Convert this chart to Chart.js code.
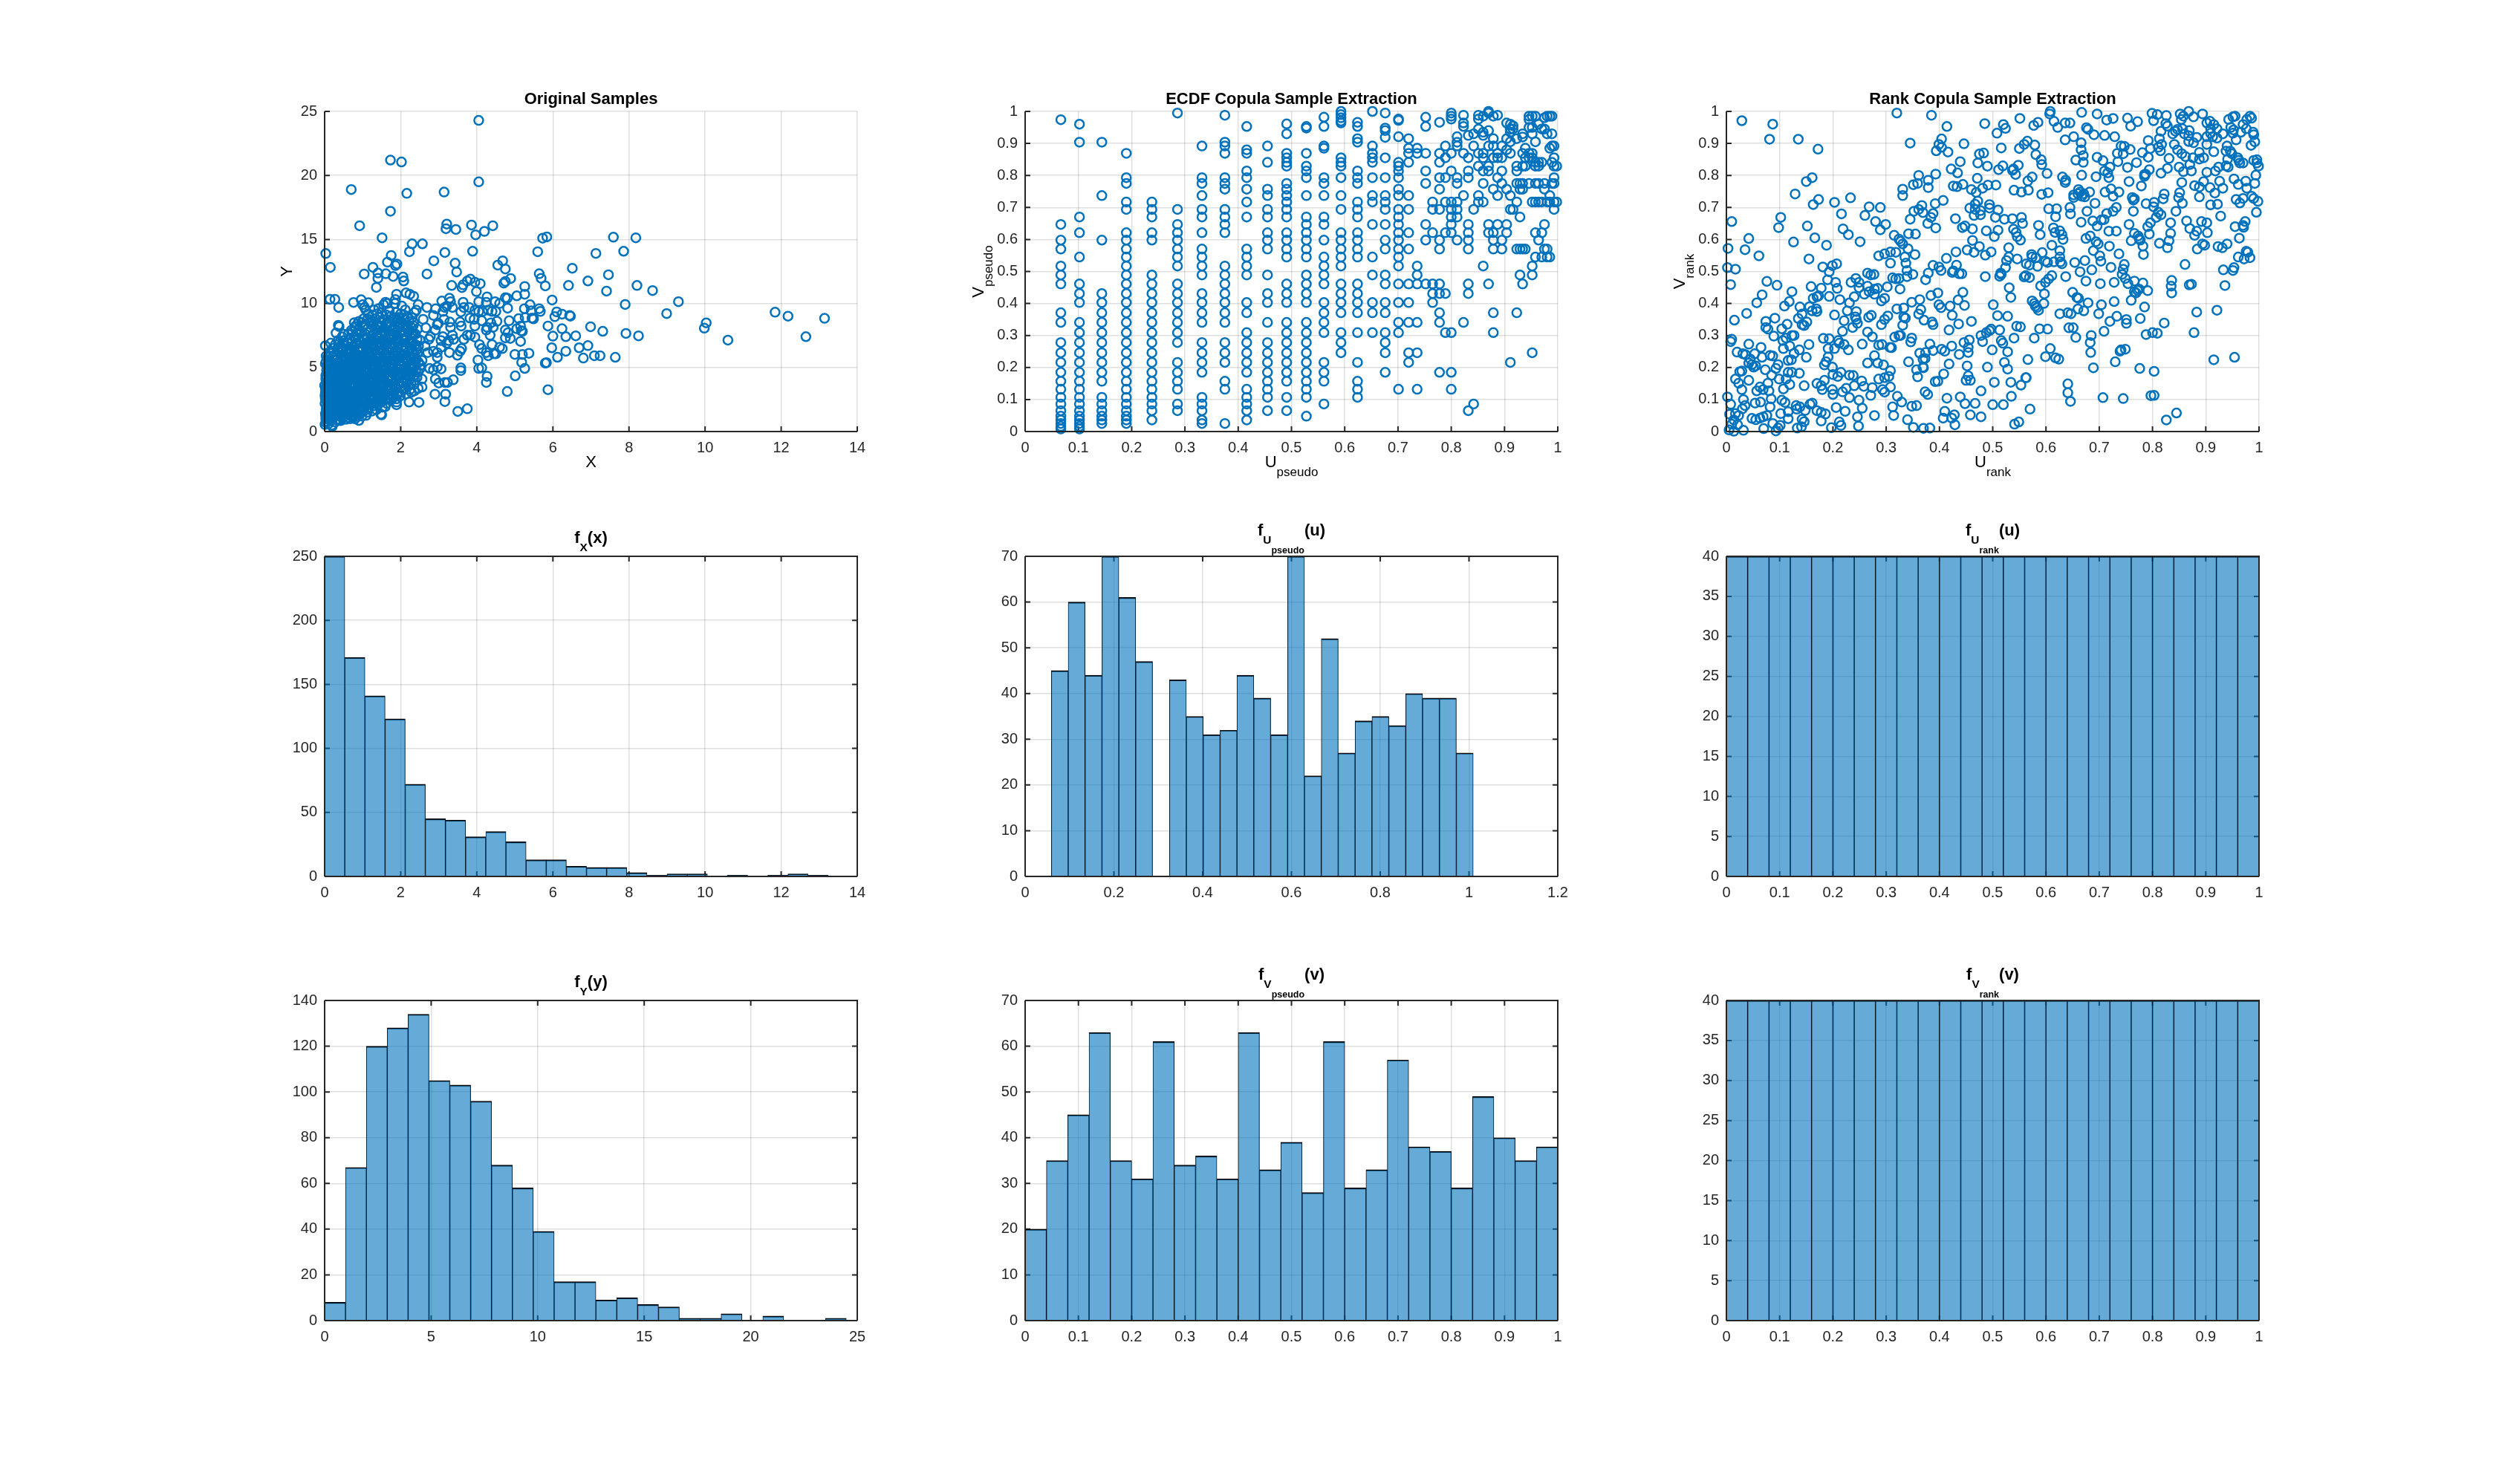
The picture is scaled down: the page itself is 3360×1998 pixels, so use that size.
<!DOCTYPE html>
<html>
<head>
<meta charset="utf-8">
<title>Copula sample extraction</title>
<script src="https://cdn.jsdelivr.net/npm/chart.js@4/dist/chart.umd.js"></script>
<style>
body { margin: 0; background: #fff; width: 3360px; height: 1998px; position: relative; overflow: hidden; }
canvas { position: absolute; }
</style>
</head>
<body>
<script>
// tick labels
const ticksX14 = [0, 2, 4, 6, 8, 10, 12, 14];
const ticksX25 = [0, 5, 10, 15, 20, 25];
const ticksUnit = [0, 0.1, 0.2, 0.3, 0.4, 0.5, 0.6, 0.7, 0.8, 0.9, 1];
const ticksU12 = [0, 0.2, 0.4, 0.6, 0.8, 1, 1.2];
const ticksY25 = [0, 5, 10, 15, 20, 25];
const ticksY250 = [0, 50, 100, 150, 200, 250];
const ticksY140 = [0, 20, 40, 60, 80, 100, 120, 140];
const ticksY70 = [0, 10, 20, 30, 40, 50, 60, 70];
const ticksY40 = [0, 5, 10, 15, 20, 25, 30, 35, 40];

// histogram counts
const countsFx = [250, 171, 141, 123, 72, 45, 44, 31, 35, 27, 13, 13, 8, 7, 7, 3, 1, 2, 2, 0, 1, 0, 1, 2, 1];
const countsFy = [8, 67, 120, 128, 134, 105, 103, 96, 68, 58, 39, 17, 17, 9, 10, 7, 6, 1, 1, 3, 0, 2, 0, 0, 1];
const countsFuPseudo = [45, 60, 44, 70, 61, 47, 0, 43, 35, 31, 32, 44, 39, 31, 70, 22, 52, 27, 34, 35, 33, 40, 39, 39, 27];
const countsFvPseudo = [20, 35, 45, 63, 35, 31, 61, 34, 36, 31, 63, 33, 39, 28, 61, 29, 33, 57, 38, 37, 29, 49, 40, 35, 38];
const countsFuRank = [40, 40, 40, 40, 40, 40, 40, 40, 40, 40, 40, 40, 40, 40, 40, 40, 40, 40, 40, 40, 40, 40, 40, 40, 40];
const countsFvRank = [40, 40, 40, 40, 40, 40, 40, 40, 40, 40, 40, 40, 40, 40, 40, 40, 40, 40, 40, 40, 40, 40, 40, 40, 40];

// [first bin edge, bin width]
const binsFx = [0, 0.5295];
const binsFy = [0, 0.9794];
const binsFuPseudo = [0.059, 0.03802];
const binsUnit = [0, 0.04];

// original samples, sparse part
const samplesOuter = [[4.05,24.3],[1.73,21.2],[2.02,21.05],[4.05,19.5],[.7,18.9],[2.16,18.6],[3.14,18.7],[1.73,17.2],[.92,16.07],[3.21,16.2],[3.19,15.84],[3.45,15.78],[3.86,16.13],[4.42,16.07],[4.2,15.63],[3.97,15.36],[1.51,15.13],[2.3,14.66],[2.57,14.66],[5.73,15.1],[5.84,15.2],[7.59,15.18],[8.18,15.13],[.03,13.9],[2.23,14.04],[3.16,13.98],[3.89,14.08],[5.6,14.04],[7.13,13.91],[7.86,14.08],[.15,12.82],[1.75,13.75],[1.65,13.23],[1.9,13.08],[1.86,12.96],[1.27,12.82],[2.87,13.33],[3.43,13.15],[3.47,12.46],[4.68,13.33],[4.55,13],[4.75,12.69],[6.51,12.75],[1.04,12.3],[1.4,12.38],[1.4,11.97],[1.61,12.32],[1.8,12.11],[2.06,12.07],[2.08,11.76],[2.69,12.3],[5.64,12.32],[5.69,11.97],[7.46,12.24],[6.92,11.76],[1.36,11.26],[3.34,11.41],[3.61,11.24],[3.64,11.45],[3.75,11.76],[3.83,11.9],[3.95,11.66],[4.09,11.55],[4.71,11.59],[4.75,11.72],[4.89,11.95],[5.26,11.33],[5.8,11.37],[6.41,11.41],[8.21,11.41],[7.41,10.97],[8.62,11.01],[3.99,10.93],[5.26,10.72],[5.05,10.6],[2.14,10.83],[2.24,10.72],[2.34,10.56],[1.89,10.72],[.14,10.33],[.27,10.33],[.37,9.69],[.76,10.08],[.96,10.29],[1.15,10.06],[1.86,10.31],[5.98,10.27],[9.3,10.14],[7.9,9.92],[8.99,9.21],[10.03,8.49],[9.98,8.07],[10.6,7.14],[11.84,9.32],[12.18,9.01],[13.14,8.84],[12.65,7.41],[7.92,7.66],[8.25,7.47],[7.31,7.83],[6.99,8.18],[7.64,5.8],[7.24,5.92],[7.09,5.92],[6.8,5.74],[6.92,6.71],[6.69,6.54],[6.6,7.47],[6.34,7.41],[6.24,8.03],[6.34,6.27],[6.12,5.8],[5.97,6.54],[6,7.45],[5.87,8.24],[6.44,9.07],[6.46,9.01],[6.24,9.17],[6.1,9.34],[6.05,8.97],[5.67,9.38],[5.64,9.59],[5.49,8.8],[5.45,8.86],[5.43,9.42],[5.4,9.9],[5.25,9.59],[5.27,8.9],[5.1,8.82],[4.85,8.65],[5.15,8.24],[5.17,7.87],[5.05,8.03],[5.2,7.83],[5.15,7.04],[5,6.02],[5.2,6.02],[5.37,6.11],[5.18,5.4],[5.26,4.93],[5.01,4.35],[5.87,3.27],[4.8,3.13],[5.8,5.34],[5.83,5.38],[4.25,3.83],[4.27,4.31],[4.05,4.93],[4.13,4.97],[4.03,5.59],[3.75,1.78],[3.5,1.57],[3.38,4.04],[3.16,3.83],[3.23,3.83],[3,3.79],[3.18,2.92],[3.16,2.34],[2.9,2.92],[3.58,4.97],[3.58,4.76],[3.06,4.89],[2.48,2.28],[2.22,2.3],[1.89,2.09],[1.89,2.3],[1.89,2.55],[1.48,1.35],[1.59,1.93],[1.09,1.26],[.9,.87],[.8,.99],[4.81,9.63],[4.8,10.41],[4.75,10.45],[4.6,10],[4.48,10.14],[4.27,10.52],[4.25,10.1],[4.05,10.14],[3.64,10.1],[3.66,9.69],[3.8,9.69],[3.28,10.41],[3.31,10.14],[3.08,10.19],[3.36,9.69],[3.16,9.69],[3.21,9.79],[2.92,9.59],[2.69,9.69],[2.46,9.9],[2.41,9.48],[2.86,9.07],[3.11,9.38],[4.05,9.38],[3.95,9.48],[4.15,9.38],[4.3,9.48],[4.4,9.38],[4.5,9.38],[3.58,9.34],[3.82,8.86],[3.56,8.55],[3.59,8.24],[3.29,8.55],[3.31,8.14],[3.14,8.76],[2.99,8.45],[2.96,8.34],[2.59,8.76],[2.66,8.1],[2.91,7.93],[3.93,8.76],[3.95,8.24],[4.13,8.65],[4.27,8.14],[4.37,8.49],[4.53,8.61],[4.43,8.14],[4.25,7.93],[4.35,7.52],[4.75,7.93],[4.82,7.72],[4.75,7.31],[4.88,7.27],[3.95,7.37],[3.83,7.52],[3.75,7.52],[3.66,7.2],[3.36,7.52],[3.39,7.2],[3.11,7.41],[3.06,7.1],[3.26,7.1],[3.21,6.89],[3.06,6.58],[2.78,7.41],[2.74,7.2],[2.64,6.69],[2.71,6.17],[2.86,6.27],[2.96,6.17],[2.96,5.8],[3.28,6.17],[3.6,6.48],[3.56,6.27],[3.49,5.96],[4.07,6.79],[4.13,6.48],[4.25,6.17],[4.3,5.92],[4.4,6.79],[4.45,6.07],[4.5,6.07],[4.6,6.58],[4.67,6.48],[2.76,4.93],[2.86,4.82],[2.96,5.03],[2.91,4.1],[2.56,4.1],[2.56,3.48],[2.36,3.17],[2.46,3.37],[2.56,5.55],[2.51,4.93]];

// original samples, dense part near the origin
const samplesCluster = [[.01,.55],[.03,1],[.02,1.4],[.05,1.9],[.01,2.2],[.04,2.6],[.02,3],[0,3.6],[.06,3.3],[.03,4.1],[.05,4.8],[.02,5.3],[.04,5.9],[.02,6.7],[.08,5.8],[.1,.6],[.11,1.2],[.08,1.6],[.09,2.4],[.12,2.8],[.07,3.1],[.1,3.7],[.12,4.3],[.09,4.5],[.07,5.1],[.11,5.6],[.12,6.2],[.06,.8],[.07,1.3],[.04,1.7],[.01,2.8],[.02,3.3],[.05,3.8],[.03,4.4],[.08,2],[.1,2.1],[.03,.7],[.2,.4],[.14,.9],[.16,1.5],[.13,1.9],[.17,2.3],[.15,2.7],[.19,3.2],[.14,3.5],[.18,3.9],[.16,4.2],[.2,4.6],[.15,4.9],[.18,5.3],[.14,5.5],[.21,5.8],[.17,6.1],[.22,6.5],[.16,6.9],[.3,7.7],[.23,1.1],[.25,1.6],[.22,2],[.27,2.5],[.24,2.9],[.28,3.3],[.23,3.7],[.29,4.1],[.26,4.5],[.3,4.9],[.24,5.2],[.31,5.6],[.27,6],[.33,6.4],[.28,6.8],[.35,7.1],[.36,8.3],[.38,8.2],[.37,.9],[.32,1.3],[.36,1.8],[.33,2.2],[.38,2.6],[.34,3],[.39,3.4],[.35,3.8],[.4,4.2],[.36,4.6],[.41,5],[.37,5.4],[.42,5.8],[.38,6.2],[.44,6.6],[.4,7],[.46,7.4],[.5,7.6],[.45,1.1],[.43,1.5],[.48,1.9],[.44,2.3],[.49,2.7],[.45,3.1],[.5,3.5],[.47,3.9],[.52,4.3],[.46,4.7],[.51,5.1],[.48,5.5],[.53,5.9],[.49,6.3],[.54,6.7],[.5,7.1],[.56,.95],[.55,1.3],[.59,1.7],[.54,2.1],[.6,2.5],[.56,2.9],[.61,3.3],[.57,3.7],[.62,4.1],[.58,4.5],[.63,4.9],[.59,5.3],[.64,5.7],[.6,6.1],[.65,6.5],[.61,6.9],[.66,7.3],[.62,7.6],[.7,7.9],[.67,1],[.66,1.4],[.7,1.8],[.65,2.2],[.71,2.6],[.67,3],[.72,3.4],[.68,3.8],[.73,4.2],[.69,4.6],[.74,5],[.7,5.4],[.75,5.8],[.71,6.2],[.76,6.6],[.72,7],[.77,7.4],[.74,7.8],[.8,8.2],[.78,8.5],[.76,1.2],[.8,1.6],[.75,2],[.82,2.4],[.77,2.8],[.83,3.2],[.79,3.6],[.84,4],[.8,4.4],[.85,4.8],[.81,5.2],[.86,5.6],[.82,6],[.87,6.4],[.83,6.8],[.88,7.2],[.84,7.6],[.89,8],[.86,8.4],[.9,8.6],[.88,1.4],[.91,1.8],[.86,2.2],[.93,2.6],[.88,3],[.94,3.4],[.9,3.8],[.95,4.2],[.91,4.6],[.96,5],[.92,5.4],[.97,5.8],[.93,6.2],[.98,6.6],[.94,7],[.99,7.4],[.95,7.8],[1,8.2],[.97,8.5],[1.02,8.8],[1.05,9.7],[1,9.9],[1.08,9.5],[.98,1.2],[1.03,1.6],[.99,2],[1.05,2.4],[1.01,2.8],[1.06,3.2],[1.02,3.6],[1.07,4],[1.03,4.4],[1.08,4.8],[1.04,5.2],[1.09,5.6],[1.05,6],[1.1,6.4],[1.06,6.8],[1.11,7.2],[1.07,7.6],[1.12,8],[1.08,8.4],[1.13,8.8],[1.15,9.2],[1.12,1.5],[1.16,1.9],[1.13,2.3],[1.18,2.7],[1.14,3.1],[1.19,3.5],[1.15,3.9],[1.2,4.3],[1.16,4.7],[1.21,5.1],[1.17,5.5],[1.22,5.9],[1.18,6.3],[1.23,6.7],[1.19,7.1],[1.24,7.5],[1.2,7.9],[1.25,8.3],[1.21,8.7],[1.26,9.1],[1.3,9.5],[1.25,1.6],[1.28,2],[1.24,2.4],[1.3,2.8],[1.26,3.2],[1.31,3.6],[1.27,4],[1.32,4.4],[1.28,4.8],[1.33,5.2],[1.29,5.6],[1.34,6],[1.3,6.4],[1.35,6.8],[1.31,7.2],[1.36,7.6],[1.32,8],[1.37,8.4],[1.33,8.8],[1.38,9.2],[1.42,9.6],[1.36,1.7],[1.4,2.1],[1.37,2.5],[1.42,2.9],[1.38,3.3],[1.43,3.7],[1.39,4.1],[1.44,4.5],[1.4,4.9],[1.45,5.3],[1.41,5.7],[1.46,6.1],[1.42,6.5],[1.47,6.9],[1.43,7.3],[1.48,7.7],[1.44,8.1],[1.49,8.5],[1.45,8.9],[1.5,9.3],[1.55,9.9],[1.5,1.3],[1.52,1.9],[1.49,2.3],[1.54,2.7],[1.5,3.1],[1.55,3.5],[1.51,3.9],[1.56,4.3],[1.52,4.7],[1.57,5.1],[1.53,5.5],[1.58,5.9],[1.54,6.3],[1.59,6.7],[1.55,7.1],[1.6,7.5],[1.56,7.9],[1.61,8.3],[1.57,8.7],[1.62,9.1],[1.6,10.1],[1.65,10],[1.63,2.2],[1.66,2.6],[1.62,3],[1.67,3.4],[1.63,3.8],[1.68,4.2],[1.64,4.6],[1.69,5],[1.65,5.4],[1.7,5.8],[1.66,6.2],[1.71,6.6],[1.67,7],[1.72,7.4],[1.68,7.8],[1.73,8.2],[1.69,8.6],[1.74,9],[1.7,9.4],[1.76,2.5],[1.78,2.9],[1.75,3.3],[1.8,3.7],[1.76,4.1],[1.81,4.5],[1.77,4.9],[1.82,5.3],[1.78,5.7],[1.83,6.1],[1.79,6.5],[1.84,6.9],[1.8,7.3],[1.85,7.7],[1.81,8.1],[1.86,8.5],[1.82,8.9],[1.88,9.3],[1.85,10],[1.9,2.9],[1.87,3.3],[1.92,3.7],[1.88,4.1],[1.93,4.5],[1.89,4.9],[1.94,5.3],[1.9,5.7],[1.95,6.1],[1.91,6.5],[1.96,6.9],[1.92,7.3],[1.97,7.7],[1.93,8.1],[1.98,8.5],[1.94,8.9],[2,9.2],[2.03,9.8],[2.02,3.1],[2,3.5],[2.05,3.9],[2.01,4.3],[2.06,4.7],[2.02,5.1],[2.07,5.5],[2.03,5.9],[2.08,6.3],[2.04,6.7],[2.09,7.1],[2.05,7.5],[2.1,7.9],[2.06,8.3],[2.11,8.7],[2.08,9.1],[2.12,9.5],[2.13,3.4],[2.15,3.8],[2.12,4.2],[2.17,4.6],[2.13,5],[2.18,5.4],[2.14,5.8],[2.19,6.2],[2.15,6.6],[2.2,7],[2.16,7.4],[2.21,7.8],[2.17,8.2],[2.22,8.6],[2.18,9],[2.25,3.3],[2.27,3.7],[2.24,4.1],[2.29,4.5],[2.25,4.9],[2.3,5.3],[2.26,5.7],[2.31,6.1],[2.27,6.5],[2.32,6.9],[2.28,7.3],[2.33,7.7],[2.29,8.1],[2.34,8.5],[2.3,8.9],[2.36,9.3],[2.38,4],[2.35,4.4],[2.4,4.8],[2.36,5.2],[2.41,5.6],[2.37,6],[2.42,6.4],[2.38,6.8],[2.43,7.2],[2.39,7.6],[2.44,8],[2.47,5.4],[.19,.5],[.28,.75],[.42,.85],[.51,1.35],[.6,1.1],[.72,1.25],[.03,1.2],[.06,2.3],[.09,2.9],[.04,3.5],[.13,3.1],[.08,3.9],[.11,4.1],[.06,4.3],[.13,4.7],[.09,5.3],[.14,2.4],[.2,2.6],[.18,1.9],[.21,3.4],[.24,4],[.19,4.4],[.27,3.1],[.22,3],[.31,2.4],[.29,1.8],[.33,3.6],[.3,4.3],[.35,4.9],[.27,5.3],[.4,2.9],[.42,3.7],[.37,4.2],[.44,4.9],[.41,2.2],[.47,3.3],[.52,2.4],[.55,3.5],[.5,4.2],[.57,4.9],[.46,5.7],[.63,2.9],[.69,3.5],[.6,3.9],[.66,4.4],[.61,5.1],[.74,3.1],[.79,4.1],[.75,4.7],[.83,5.4],[.71,5.7],[.92,3.2],[.87,4.3],[.96,4.7],[.89,5.9],[1.02,3.9],[1.11,4.7],[1.06,5.5],[1.14,6.1],[1.22,3.8],[1.26,5],[1.35,4.2],[1.41,5],[1.47,6.3],[1.57,3.7],[1.63,5],[1.72,5.9],[1.84,4.7],[1.96,5.8],[2.09,4.9],[2.21,5.9],[2.33,4.9]];

// more of the dense part, where single rings cannot be told apart
const samplesClusterFill = [[.11,1.73],[.17,1.21],[.07,2.77],[.21,2.17],[.13,3.34],[.26,3.62],[.16,2.91],[.24,2.33],[.34,1.57],[.29,2.87],[.39,1.23],[.31,3.53],[.43,2.71],[.37,2.47],[.46,1.67],[.54,1.87],[.41,3.22],[.58,2.37],[.48,2.92],[.35,4.33],[.44,3.53],[.53,3.13],[.62,1.53],[.68,2.07],[.57,3.27],[.65,3.63],[.73,2.33],[.51,3.81],[.79,1.47],[.84,2.13],[.71,2.93],[.63,4.27],[.77,3.37],[.87,2.77],[.54,4.63],[.67,4.83],[.81,3.07],[.93,2.03],[.74,4.43],[.89,3.53],[.97,2.37],[.82,4.17],[.59,5.63],[.72,5.33],[.95,3.87],[1.03,2.17],[.84,5.07],[1.09,2.93],[.91,4.27],[.78,6.13],[1.01,4.77],[1.13,3.47],[.66,6.27],[.93,5.73],[1.16,2.57],[1.07,4.33],[.86,6.87],[1.21,3.13],[1.12,5.27],[1.26,2.17],[.98,6.27],[1.23,4.53],[1.34,3.03],[1.18,5.77],[1.37,2.27],[1.29,4.17],[1.43,3.23],[1.11,6.73],[1.33,5.57],[1.47,2.63],[1.24,6.13],[1.39,4.67],[1.52,3.37],[1.34,6.43],[1.49,4.13],[1.59,2.47],[1.43,5.43],[1.61,3.27],[1.27,7.07],[1.54,5.07],[1.68,2.93],[1.38,7.33],[1.59,4.53],[1.73,3.47],[1.48,6.57],[1.66,5.67],[1.79,2.83],[1.57,6.93],[1.73,4.37],[1.86,3.57],[1.63,6.37],[1.78,5.17],[1.93,3.07],[1.69,7.27],[1.84,5.93],[1.99,2.77],[1.74,6.83],[1.91,4.33],[2.07,3.27],[1.82,7.53],[1.98,5.07],[2.14,2.93],[1.89,6.27],[2.04,4.47],[2.21,3.57],[1.95,7.13],[2.11,5.67],[2.28,3.07],[2.02,7.83],[2.18,4.37],[2.35,3.67],[2.07,6.57],[2.24,5.13],[2.43,4.23],[2.13,7.27],[2.31,6.37],[2.46,4.63],[2.19,8.07],[2.37,5.73],[2.52,5.17],[2.26,7.03],[2.44,6.13],[2.29,7.63],[2.47,6.67],[2.33,8.27],[2.51,7.13],[1.26,8.57],[1.47,8.23],[1.68,8.43],[1.89,8.83],[2.12,8.27],[1.17,7.73],[1.38,7.93],[1.59,7.77],[1.76,7.63],[1.97,8.27],[.93,7.67],[1.04,7.27],[1.14,6.87],[.71,6.63],[.82,7.33],[.58,6.37],[.47,6.87],[.36,6.57],[.23,6.27],[.12,5.13],[.19,5.07],[.26,4.73],[.33,5.23],[.04,5.47],[.07,4.57],[.14,4.17],[.21,3.97],[.28,4.87],[.39,4.73],[.46,4.33],[.53,5.47],[.6,4.67],[.67,5.13],[.74,5.53],[.81,4.83],[.88,4.93],[.95,5.27],[1.02,5.57],[1.09,5.03],[1.16,5.33],[1.23,5.63],[1.3,5.07],[1.37,5.43],[1.44,5.83],[1.51,4.43],[1.58,4.87],[1.65,4.27],[1.72,5.33],[1.79,4.63],[1.86,5.53],[1.93,4.87],[2,5.27],[.02,2.57],[.05,3.13],[.08,3.43],[.11,2.43],[.14,1.37],[.17,.83],[.2,1.73],[.23,2.57],[.26,1.93],[.29,1.27],[.32,.95],[.35,2.77],[.38,2.07],[.41,1.73],[.44,1.27],[.47,2.53],[.5,1.17],[.53,2.77],[.56,2.17],[.59,3.07],[.62,2.77],[.65,1.83],[.68,1.23],[.71,1.67],[.74,3.73],[.77,2.13],[.8,2.63],[.83,1.17],[.86,3.33],[.89,2.37],[.92,1.33],[.95,3.03],[.98,1.73],[1.01,3.27],[1.04,1.93],[1.07,2.77],[1.1,3.77],[1.13,1.77],[1.16,4.07],[1.19,2.23],[1.22,2.87],[1.25,3.47],[1.28,2.63],[1.31,4.53],[1.34,3.37],[1.37,3.87],[1.4,2.57],[1.43,4.27],[1.46,3.53],[1.49,2.93]];

// ECDF copula: U levels and the V values found at each level
const pseudoU = [.067,.102,.144,.19,.238,.286,.332,.375,.416,.455,.491,.528,.561,.593,.624,.652,.676,.701,.72,.736,.752,.765,.778,.789,.8,.811,.823,.832,.842,.851,.86,.87,.879,.887,.895,.904,.911,.916,.923,.929,.934,.939,.946,.952,.958,.964,.97,.975,.98,.985,.989,.993,.998];
const pseudoV = [
  [.974,.647,.598,.57,.517,.489,.461,.371,.341,.278,.246,.216,.185,.157,.132,.107,.086,.065,.048,.036,.025,.016,.008],
  [.96,.904,.67,.621,.545,.461,.431,.403,.341,.309,.278,.246,.216,.185,.157,.132,.107,.086,.065,.048,.036,.025,.016,.008],
  [.904,.737,.598,.431,.403,.371,.341,.309,.278,.246,.216,.185,.157,.107,.086,.065,.048,.036,.025],
  [.869,.793,.775,.717,.694,.621,.598,.57,.545,.517,.489,.461,.431,.403,.371,.341,.309,.278,.246,.216,.185,.157,.132,.107,.086,.065,.048,.036,.025],
  [.717,.694,.67,.621,.598,.489,.461,.431,.403,.371,.341,.309,.278,.246,.216,.185,.157,.132,.107,.086,.065,.036],
  [.995,.694,.647,.621,.598,.57,.545,.517,.461,.431,.403,.371,.341,.309,.278,.216,.185,.157,.132,.086,.065],
  [.892,.793,.775,.737,.694,.67,.621,.57,.545,.517,.489,.431,.403,.371,.341,.278,.246,.216,.185,.107,.086,.065,.036,.025],
  [.988,.904,.892,.869,.793,.775,.757,.694,.67,.647,.621,.517,.489,.461,.431,.403,.371,.341,.278,.246,.216,.157,.132,.025],
  [.953,.88,.869,.814,.793,.757,.717,.67,.57,.545,.517,.489,.403,.371,.309,.278,.246,.216,.185,.132,.107,.086,.065,.036],
  [.892,.841,.757,.737,.694,.67,.621,.598,.57,.489,.431,.403,.341,.278,.246,.216,.185,.157,.132,.107,.065],
  [.961,.93,.869,.855,.841,.829,.775,.757,.737,.717,.694,.67,.621,.598,.57,.545,.461,.431,.403,.341,.309,.278,.246,.216,.185,.157,.107,.065],
  [.953,.948,.869,.829,.814,.793,.737,.67,.647,.621,.598,.57,.545,.489,.461,.431,.403,.341,.309,.278,.246,.216,.185,.157,.132,.107,.048],
  [.982,.953,.892,.885,.793,.775,.737,.67,.647,.598,.545,.517,.489,.461,.403,.371,.341,.309,.216,.185,.157,.086],
  [1,.99,.98,.97,.964,.855,.841,.829,.793,.737,.694,.621,.598,.57,.545,.517,.461,.431,.403,.371,.309,.278,.246],
  [.966,.953,.915,.904,.814,.793,.775,.717,.694,.67,.621,.598,.57,.545,.461,.431,.403,.371,.309,.216,.157,.132,.107],
  [1,.892,.869,.855,.841,.793,.737,.717,.647,.545,.489,.403,.371,.309],
  [.995,.948,.94,.919,.855,.793,.737,.717,.694,.647,.598,.57,.489,.461,.403,.371,.309,.278,.246,.185],
  [.976,.972,.921,.841,.829,.814,.793,.757,.737,.694,.67,.647,.621,.598,.57,.545,.517,.461,.403,.341,.309,.132],
  [.915,.885,.869,.841,.737,.694,.621,.57,.461,.403,.341,.246,.216],
  [.885,.869,.517,.489,.461,.341,.246,.132],
  [.982,.953,.869,.814,.775,.647,.598,.461],
  [.717,.694,.621,.461,.431,.403],
  [.966,.869,.841,.793,.757,.694,.598,.57,.461,.431,.371,.341,.185],
  [.892,.855,.793,.717,.621,.431,.309],
  [.995,.985,.976,.869,.814,.717,.694,.67,.647,.621,.309,.185,.132],
  [.921,.904,.892,.793,.775,.717,.694,.67,.598],
  [.988,.964,.953,.869,.737,.341],
  [.925,.855,.814,.793,.647,.621,.598,.57,.461,.431,.065],
  [.93,.892,.694,.086],
  [.988,.976,.945,.869,.829,.737,.717],
  [.985,.925,.935,.869,.855,.814,.775,.717,.517],
  [1,.995,.94,.892,.829,.814,.647,.621,.461],
  [.985,.915,.892,.855,.757,.621,.598,.57,.371,.309],
  [.988,.869,.855,.793,.737,.647],
  [.892,.855,.814,.775,.598,.57],
  [.964,.915,.88,.757,.647,.621],
  [.96,.945,.935,.905,.869,.737,.694,.216],
  [.955,.945,.694],
  [.915,.829,.814,.775,.717,.57,.371],
  [.775,.757,.67,.57,.489],
  [.93,.92,.869,.829,.775,.757,.57,.461],
  [.885,.855,.829,.57],
  [.985,.975,.95,.869,.855,.775],
  [.985,.95,.93,.869,.855,.717,.517,.489,.246],
  [.985,.905,.841,.829,.775,.717,.621,.545],
  [.96,.841,.829,.775,.717,.598],
  [.945,.841,.717,.621,.545],
  [.98,.945,.775,.757,.647,.57],
  [.985,.93,.717,.57,.545],
  [.985,.885,.737,.717,.545],
  [.985,.93,.892,.841,.775],
  [.892,.855,.829,.793,.775,.717,.694],
  [.829,.717]
];

// rank copula samples
const rankPoints = [[.029,.971],[.087,.96],[.081,.913],[.135,.913],[.32,.995],[.385,.988],[.345,.901],[.414,.953],[.404,.914],[.399,.897],[.446,.899],[.485,.962],[.508,.932],[.52,.959],[.524,.947],[.551,.978],[.577,.956],[.585,.966],[.565,.907],[.559,.897],[.579,.895],[.608,1],[.607,.992],[.615,.969],[.622,.95],[.636,.964],[.645,.964],[.636,.911],[.652,.921],[.667,.997],[.696,.992],[.676,.949],[.679,.944],[.69,.927],[.666,.902],[.71,.925],[.714,.973],[.726,.978],[.729,.921],[.753,.979],[.759,.954],[.772,.968],[.799,.994],[.802,.971],[.809,.99],[.826,.987],[.825,.962],[.828,.954],[.792,.909],[.816,.938],[.813,.915],[.838,.93],[.843,.938],[.847,.944],[.852,.992],[.858,.985],[.854,.975],[.868,1],[.877,.983],[.894,.992],[.856,.946],[.869,.94],[.868,.924],[.86,.93],[.883,.919],[.868,.906],[.877,.902],[.902,.964],[.908,.969],[.915,.959],[.909,.946],[.921,.946],[.909,.932],[.902,.921],[.913,.921],[.921,.917],[.932,.93],[.902,.897],[.943,.975],[.951,.983],[.955,.985],[.947,.95],[.952,.942],[.951,.932],[.957,.911],[.97,.959],[.976,.946],[.983,.985],[.986,.979],[.977,.975],[.966,.935],[.989,.935],[.99,.927],[.985,.894],[.992,.905],
[.172,.882],[.394,.877],[.416,.873],[.404,.888],[.475,.867],[.483,.87],[.439,.843],[.472,.839],[.49,.829],[.422,.82],[.434,.808],[.393,.804],[.361,.8],[.516,.886],[.55,.884],[.581,.865],[.591,.849],[.592,.834],[.519,.83],[.511,.818],[.537,.816],[.548,.832],[.539,.82],[.543,.803],[.602,.806],[.656,.848],[.67,.862],[.666,.88],[.67,.841],[.696,.857],[.707,.846],[.71,.814],[.716,.808],[.72,.826],[.667,.801],[.735,.843],[.734,.869],[.741,.892],[.747,.891],[.745,.868],[.758,.881],[.781,.871],[.792,.857],[.753,.825],[.77,.84],[.796,.884],[.794,.818],[.785,.803],[.811,.888],[.817,.897],[.815,.877],[.831,.853],[.816,.807],[.828,.822],[.841,.897],[.847,.88],[.85,.826],[.855,.868],[.862,.859],[.876,.855],[.87,.834],[.858,.812],[.873,.814],[.888,.872],[.896,.855],[.888,.851],[.902,.81],[.915,.874],[.924,.826],[.918,.814],[.94,.892],[.946,.876],[.938,.876],[.941,.851],[.942,.826],[.938,.83],[.949,.868],[.96,.855],[.962,.847],[.964,.839],[.97,.839],[.99,.847],[.996,.849],[.996,.839],[.999,.829],[.994,.801],
[.161,.793],[.15,.781],[.129,.742],[.173,.725],[.163,.709],[.203,.716],[.233,.73],[.268,.702],[.289,.7],[.331,.757],[.331,.737],[.351,.771],[.359,.775],[.379,.785],[.379,.762],[.367,.706],[.392,.712],[.407,.722],[.426,.767],[.433,.765],[.444,.772],[.46,.756],[.469,.747],[.471,.791],[.481,.76],[.491,.77],[.506,.77],[.472,.72],[.467,.71],[.494,.709],[.54,.754],[.554,.748],[.567,.754],[.566,.783],[.574,.795],[.592,.741],[.604,.746],[.631,.795],[.637,.785],[.636,.778],[.652,.731],[.66,.743],[.664,.748],[.671,.743],[.661,.756],[.652,.739],[.673,.733],[.682,.748],[.667,.735],[.694,.796],[.718,.793],[.711,.748],[.722,.758],[.726,.735],[.737,.748],[.692,.713],[.756,.781],[.779,.767],[.787,.804],[.785,.797],[.762,.731],[.764,.723],[.766,.727],[.788,.712],[.803,.716],[.822,.742],[.82,.727],[.802,.702],[.855,.778],[.849,.731],[.851,.746],[.856,.713],[.879,.768],[.888,.764],[.888,.733],[.896,.781],[.908,.762],[.917,.745],[.926,.782],[.932,.76],[.909,.708],[.922,.71],[.953,.789],[.961,.772],[.957,.725],[.964,.714],[.97,.728],[.975,.782],[.977,.76],[.986,.735],[.99,.728],[.992,.775],[.998,.719],
[.01,.656],[.102,.669],[.098,.637],[.152,.642],[.166,.605],[.216,.68],[.219,.633],[.229,.615],[.26,.675],[.28,.656],[.289,.63],[.299,.647],[.315,.613],[.345,.663],[.342,.618],[.355,.617],[.352,.688],[.361,.694],[.369,.684],[.378,.65],[.384,.669],[.388,.681],[.393,.636],[.43,.665],[.443,.637],[.448,.642],[.462,.633],[.457,.698],[.467,.694],[.477,.677],[.465,.675],[.477,.69],[.494,.698],[.505,.669],[.51,.692],[.51,.629],[.488,.627],[.503,.609],[.522,.663],[.537,.665],[.539,.632],[.544,.622],[.546,.609],[.554,.669],[.556,.65],[.552,.598],[.586,.644],[.589,.615],[.605,.696],[.62,.696],[.618,.671],[.614,.636],[.617,.622],[.626,.627],[.63,.615],[.632,.6],[.646,.68],[.645,.7],[.666,.654],[.677,.688],[.675,.603],[.683,.611],[.688,.658],[.696,.642],[.704,.661],[.709,.662],[.714,.681],[.726,.688],[.732,.7],[.718,.626],[.732,.626],[.756,.647],[.76,.596],[.766,.619],[.773,.611],[.775,.603],[.764,.688],[.791,.64],[.794,.617],[.796,.652],[.811,.685],[.807,.669],[.816,.677],[.834,.619],[.834,.652],[.844,.688],[.864,.658],[.87,.634],[.883,.626],[.879,.613],[.892,.656],[.902,.652],[.903,.621],[.928,.673],[.955,.64],[.97,.644],[.974,.656],[.963,.604],[.971,.638],[.995,.685],
[.003,.572],[.035,.568],[.042,.603],[.061,.549],[.126,.592],[.155,.539],[.188,.582],[.002,.512],[.017,.507],[.181,.514],[.193,.499],[.199,.518],[.207,.524],[.251,.593],[.286,.549],[.297,.555],[.308,.561],[.318,.56],[.308,.526],[.335,.545],[.337,.526],[.339,.503],[.354,.553],[.341,.571],[.327,.594],[.331,.586],[.324,.601],[.388,.519],[.399,.514],[.403,.503],[.413,.541],[.431,.561],[.432,.52],[.426,.502],[.452,.567],[.462,.597],[.465,.56],[.475,.578],[.486,.551],[.497,.561],[.53,.574],[.53,.545],[.526,.534],[.524,.512],[.515,.495],[.546,.539],[.573,.553],[.574,.545],[.563,.524],[.569,.52],[.584,.516],[.593,.559],[.599,.532],[.603,.528],[.581,.543],[.611,.582],[.615,.53],[.626,.545],[.626,.565],[.627,.53],[.63,.524],[.654,.528],[.664,.499],[.673,.534],[.686,.505],[.689,.565],[.694,.593],[.698,.586],[.701,.549],[.703,.532],[.719,.579],[.722,.513],[.737,.555],[.747,.522],[.745,.507],[.783,.553],[.782,.579],[.777,.598],[.813,.588],[.828,.574],[.831,.596],[.861,.522],[.884,.57],[.894,.586],[.898,.582],[.923,.578],[.931,.574],[.94,.586],[.933,.505],[.961,.545],[.951,.503],[.953,.512],[.972,.539],[.976,.563],[.979,.56],[.983,.543],
[.008,.459],[.076,.469],[.095,.457],[.067,.427],[.057,.402],[.123,.437],[.118,.406],[.109,.392],[.159,.453],[.163,.416],[.17,.421],[.178,.448],[.173,.424],[.19,.474],[.193,.422],[.205,.466],[.208,.447],[.213,.412],[.231,.402],[.234,.466],[.24,.421],[.243,.478],[.249,.466],[.249,.449],[.259,.429],[.265,.495],[.271,.489],[.277,.491],[.265,.454],[.268,.437],[.278,.445],[.284,.447],[.278,.429],[.291,.408],[.297,.416],[.302,.452],[.312,.48],[.324,.478],[.318,.477],[.326,.445],[.35,.491],[.339,.484],[.348,.404],[.363,.412],[.374,.474],[.379,.495],[.384,.425],[.397,.433],[.424,.497],[.435,.411],[.444,.435],[.437,.493],[.442,.493],[.486,.484],[.513,.485],[.516,.491],[.531,.449],[.534,.419],[.559,.483],[.562,.487],[.569,.481],[.59,.455],[.597,.43],[.599,.466],[.605,.477],[.611,.487],[.637,.484],[.65,.435],[.658,.419],[.661,.416],[.675,.47],[.679,.402],[.702,.462],[.728,.466],[.728,.406],[.743,.491],[.749,.478],[.754,.462],[.766,.47],[.76,.41],[.766,.437],[.769,.433],[.772,.441],[.775,.445],[.782,.464],[.791,.44],[.836,.472],[.835,.454],[.836,.433],[.869,.458],[.873,.46],[.936,.456],
[.038,.369],[.015,.348],[.091,.354],[.074,.344],[.074,.325],[.078,.32],[.114,.335],[.104,.321],[.123,.3],[.127,.3],[.138,.389],[.142,.367],[.135,.353],[.142,.334],[.146,.331],[.151,.342],[.156,.39],[.161,.377],[.169,.383],[.17,.375],[.203,.364],[.221,.346],[.227,.377],[.218,.313],[.237,.325],[.242,.358],[.244,.375],[.244,.35],[.246,.338],[.265,.311],[.267,.357],[.272,.363],[.274,.296],[.291,.334],[.297,.35],[.303,.361],[.32,.383],[.333,.386],[.333,.358],[.336,.354],[.331,.332],[.327,.3],[.365,.381],[.361,.367],[.371,.348],[.388,.334],[.386,.342],[.399,.396],[.403,.387],[.42,.392],[.424,.363],[.418,.317],[.436,.336],[.447,.394],[.46,.344],[.478,.3],[.488,.309],[.494,.315],[.497,.32],[.501,.396],[.509,.362],[.513,.317],[.528,.36],[.545,.329],[.552,.327],[.574,.408],[.578,.4],[.58,.392],[.583,.387],[.586,.379],[.596,.4],[.588,.321],[.603,.32],[.626,.368],[.641,.371],[.647,.368],[.643,.324],[.651,.324],[.66,.383],[.671,.377],[.699,.368],[.704,.396],[.685,.3],[.709,.313],[.72,.344],[.733,.36],[.751,.35],[.751,.338],[.777,.353],[.785,.389],[.822,.339],[.883,.373],[.878,.309],[.921,.379],[.8,.309],[.809,.307],
[.01,.288],[.008,.281],[.042,.273],[.065,.263],[.02,.248],[.031,.243],[.036,.24],[.053,.243],[.082,.238],[.087,.236],[.067,.232],[.045,.226],[.042,.214],[.048,.209],[.055,.205],[.051,.201],[.089,.298],[.106,.284],[.112,.292],[.107,.259],[.119,.267],[.137,.255],[.127,.244],[.155,.272],[.15,.232],[.097,.209],[.116,.222],[.122,.224],[.182,.291],[.193,.29],[.21,.284],[.212,.276],[.203,.259],[.191,.259],[.221,.272],[.229,.255],[.191,.233],[.187,.218],[.184,.208],[.255,.273],[.278,.237],[.265,.214],[.284,.214],[.295,.208],[.286,.27],[.292,.272],[.307,.263],[.31,.262],[.316,.295],[.324,.3],[.348,.292],[.346,.28],[.342,.218],[.363,.245],[.374,.247],[.369,.226],[.373,.228],[.382,.273],[.388,.253],[.404,.257],[.41,.251],[.423,.267],[.418,.211],[.369,.201],[.437,.241],[.446,.278],[.456,.286],[.454,.263],[.454,.247],[.452,.205],[.499,.255],[.481,.281],[.49,.201],[.516,.284],[.519,.276],[.528,.249],[.522,.216],[.54,.292],[.566,.225],[.578,.292],[.608,.259],[.599,.234],[.618,.23],[.624,.226],[.656,.294],[.683,.278],[.684,.247],[.73,.218],[.739,.251],[.741,.255],[.749,.257],[.788,.303],[.915,.224],[.954,.232],
[.025,.187],[.029,.189],[.017,.164],[.023,.151],[.029,.131],[.042,.16],[.073,.193],[.093,.197],[.085,.176],[.099,.164],[.116,.185],[.123,.185],[.112,.164],[.119,.147],[.107,.133],[.078,.151],[.057,.127],[.063,.139],[.069,.131],[.08,.127],[.137,.182],[.146,.143],[.17,.15],[.178,.143],[.184,.16],[.18,.131],[.199,.201],[.2,.178],[.209,.172],[.215,.185],[.199,.131],[.2,.116],[.218,.124],[.225,.135],[.231,.176],[.238,.175],[.24,.143],[.231,.106],[.254,.158],[.258,.141],[.274,.137],[.271,.113],[.286,.164],[.297,.168],[.305,.172],[.308,.19],[.293,.131],[.297,.123],[.308,.139],[.321,.11],[.357,.193],[.359,.171],[.392,.156],[.397,.157],[.37,.199],[.373,.124],[.378,.116],[.408,.18],[.414,.104],[.439,.108],[.45,.16],[.454,.174],[.458,.16],[.478,.127],[.503,.154],[.528,.195],[.534,.154],[.535,.11],[.553,.145],[.562,.168],[.563,.168],[.641,.149],[.641,.121],[.689,.199],[.707,.106],[.745,.103],[.776,.197],[.803,.188],[.797,.112],[.803,.113],
[.002,.108],[.008,.085],[.032,.1],[.035,.081],[.03,.071],[.006,.054],[.023,.05],[.014,.036],[.01,.023],[.021,.021],[.005,.005],[.014,.001],[.032,.004],[.017,.056],[.054,.089],[.064,.092],[.084,.102],[.082,.077],[.076,.05],[.048,.041],[.055,.037],[.063,.042],[.069,.046],[.07,.009],[.087,.025],[.093,.002],[.097,.011],[.101,.019],[.102,.056],[.104,.098],[.11,.091],[.116,.062],[.116,.04],[.131,.081],[.138,.077],[.132,.07],[.148,.066],[.157,.085],[.161,.089],[.142,.038],[.146,.031],[.133,.011],[.141,.015],[.17,.065],[.178,.06],[.186,.055],[.178,.033],[.197,.012],[.206,.075],[.212,.03],[.215,.019],[.223,.063],[.249,.098],[.255,.073],[.246,.046],[.248,.017],[.278,.05],[.312,.077],[.314,.05],[.329,.092],[.348,.079],[.357,.081],[.34,.037],[.351,.013],[.37,.01],[.382,.011],[.41,.063],[.407,.042],[.428,.052],[.423,.042],[.429,.021],[.448,.087],[.467,.088],[.458,.052],[.478,.046],[.5,.084],[.52,.084],[.541,.023],[.549,.03],[.57,.07],[.646,.094],[.826,.036],[.845,.058]];

// titles and axis labels as [text, subscript depth]
const titleFx = [['f', 0], ['X', 1], ['(x)', 0]];
const titleFy = [['f', 0], ['Y', 1], ['(y)', 0]];
const titleFuPseudo = [['f', 0], ['U', 1], ['pseudo', 2], ['(u)', 0]];
const titleFvPseudo = [['f', 0], ['V', 1], ['pseudo', 2], ['(v)', 0]];
const titleFuRank = [['f', 0], ['U', 1], ['rank', 2], ['(u)', 0]];
const titleFvRank = [['f', 0], ['V', 1], ['rank', 2], ['(v)', 0]];

// subplot positions in the page
const colLeft = [437, 1380, 2324];
const rowTop = [150, 749, 1347];
const axisWidth = 717;
const axisHeight = 431;
const fontName = '"Liberation Sans", Arial, sans-serif';
const axisColor = '#262626';
const markerColor = '#0072BD';

const titleSizes = [22, 15.4, 12.5];
const titleDrops = [0, 11, 24];
const labelSizes = [22, 17];
const labelDrops = [0, 12];

// draw a run of text pieces, each one lowered by its subscript depth
function drawRun(ctx, run, sizes, drops, weight, cx, y, angle) {
  ctx.save();
  ctx.translate(cx, y);
  ctx.rotate(angle);
  ctx.fillStyle = '#000';
  ctx.textBaseline = 'alphabetic';
  ctx.textAlign = 'left';
  let total = 0;
  const widths = run.map(([text, depth]) => {
    ctx.font = `${weight} ${sizes[depth]}px ${fontName}`;
    const w = ctx.measureText(text).width;
    total += w;
    return w;
  });
  let x = -total / 2;
  run.forEach(([text, depth], i) => {
    ctx.font = `${weight} ${sizes[depth]}px ${fontName}`;
    ctx.fillText(text, x, drops[depth]);
    x += widths[i];
  });
  ctx.restore();
}

const subplotDecor = {
  id: 'subplotDecor',
  beforeDatasetsDraw(chart, args, opts) {
    // MATLAB style inward ticks
    const { ctx, chartArea: a, scales } = chart;
    const len = 7;
    ctx.save();
    ctx.strokeStyle = axisColor;
    ctx.lineWidth = 2;
    ctx.beginPath();
    scales.x.ticks.forEach((t) => {
      const px = scales.x.getPixelForValue(t.value);
      ctx.moveTo(px, a.bottom);
      ctx.lineTo(px, a.bottom - len);
      if (opts.box) {
        ctx.moveTo(px, a.top);
        ctx.lineTo(px, a.top + len);
      }
    });
    scales.y.ticks.forEach((t) => {
      const py = scales.y.getPixelForValue(t.value);
      ctx.moveTo(a.left, py);
      ctx.lineTo(a.left + len, py);
      if (opts.box) {
        ctx.moveTo(a.right, py);
        ctx.lineTo(a.right - len, py);
      }
    });
    ctx.stroke();
    ctx.restore();
  },
  afterDatasetsDraw(chart, args, opts) {
    const { ctx, chartArea: a } = chart;
    ctx.save();
    ctx.strokeStyle = axisColor;
    ctx.lineWidth = 2;
    ctx.beginPath();
    ctx.moveTo(a.left, a.bottom);
    ctx.lineTo(a.right, a.bottom);
    ctx.moveTo(a.left, a.top);
    ctx.lineTo(a.left, a.bottom);
    if (opts.box) {
      ctx.moveTo(a.left, a.top);
      ctx.lineTo(a.right, a.top);
      ctx.lineTo(a.right, a.bottom);
    }
    ctx.stroke();
    ctx.restore();
    const mid = (a.left + a.right) / 2;
    const hasDeepSub = opts.title.some((p) => p[1] === 2);
    const hasSub = opts.title.some((p) => p[1] === 1);
    const rise = hasDeepSub ? 28 : hasSub ? 18.5 : 10;
    drawRun(ctx, opts.title, titleSizes, titleDrops, 'bold', mid, a.top - rise, 0);
    if (opts.xLabel) {
      drawRun(ctx, opts.xLabel, labelSizes, labelDrops, 'normal', mid, a.bottom + 48, 0);
    }
    if (opts.yLabel) {
      drawRun(ctx, opts.yLabel, labelSizes, labelDrops, 'normal', a.left - opts.yLabelGap, (a.top + a.bottom) / 2, -Math.PI / 2);
    }
  }
};

function axis(min, max, tickValues, afterFit) {
  return {
    type: 'linear',
    min,
    max,
    offset: false,
    afterBuildTicks: (s) => { s.ticks = tickValues.map((v) => ({ value: v })); },
    afterFit,
    grid: { color: 'rgba(38,38,38,0.15)', lineWidth: 1.5, drawTicks: false, offset: false },
    border: { display: false },
    ticks: {
      padding: 10,
      autoSkip: false,
      maxRotation: 0,
      color: axisColor,
      font: { family: fontName, size: 20 },
      callback: (v) => String(v)
    }
  };
}

function makeChart(row, col, datasets, type, xAxis, yAxis, decor) {
  const canvas = document.createElement('canvas');
  canvas.width = axisWidth + 160;
  canvas.height = axisHeight + 140;
  canvas.style.left = (colLeft[col] - 110) + 'px';
  canvas.style.top = (rowTop[row] - 70) + 'px';
  document.body.appendChild(canvas);
  new Chart(canvas, {
    type,
    data: { datasets },
    options: {
      responsive: false,
      animation: false,
      devicePixelRatio: 1,
      layout: { autoPadding: false, padding: { left: 30, right: 50, top: 70, bottom: 0 } },
      scales: {
        x: axis(xAxis[0], xAxis[1], xAxis[2], (s) => { s.height = 70; }),
        y: axis(yAxis[0], yAxis[1], yAxis[2], (s) => { s.width = 80; })
      },
      plugins: { legend: { display: false }, tooltip: { enabled: false }, subplotDecor: decor }
    },
    plugins: [subplotDecor]
  });
}

function scatterSet(points) {
  return [{
    data: points.map((p) => ({ x: p[0], y: p[1] })),
    showLine: false,
    clip: false,
    pointStyle: 'circle',
    pointRadius: 6,
    pointBorderWidth: 2.5,
    pointBorderColor: markerColor,
    pointBackgroundColor: 'rgba(0,0,0,0)'
  }];
}

function histSet(counts, bins) {
  return [{
    data: counts.map((c, i) => ({ x: bins[0] + bins[1] * (i + 0.5), y: c })),
    backgroundColor: 'rgba(0,114,189,0.6)',
    borderColor: '#000',
    borderWidth: { top: 1.5, left: 0.5, right: 0.5, bottom: 0 },
    barPercentage: 1,
    categoryPercentage: 1
  }];
}

const pseudoPoints = pseudoU.flatMap((u, i) => pseudoV[i].map((v) => [u, v]));

makeChart(0, 0, scatterSet(samplesOuter.concat(samplesCluster, samplesClusterFill)), 'scatter', [0, 14, ticksX14], [0, 25, ticksY25],
  { title: [['Original Samples', 0]], xLabel: [['X', 0]], yLabel: [['Y', 0]], yLabelGap: 44 });
makeChart(0, 1, scatterSet(pseudoPoints), 'scatter', [0, 1, ticksUnit], [0, 1, ticksUnit],
  { title: [['ECDF Copula Sample Extraction', 0]], xLabel: [['U', 0], ['pseudo', 1]], yLabel: [['V', 0], ['pseudo', 1]], yLabelGap: 56 });
makeChart(0, 2, scatterSet(rankPoints), 'scatter', [0, 1, ticksUnit], [0, 1, ticksUnit],
  { title: [['Rank Copula Sample Extraction', 0]], xLabel: [['U', 0], ['rank', 1]], yLabel: [['V', 0], ['rank', 1]], yLabelGap: 56 });

makeChart(1, 0, histSet(countsFx, binsFx), 'bar', [0, 14, ticksX14], [0, 250, ticksY250], { box: true, title: titleFx });
makeChart(1, 1, histSet(countsFuPseudo, binsFuPseudo), 'bar', [0, 1.2, ticksU12], [0, 70, ticksY70], { box: true, title: titleFuPseudo });
makeChart(1, 2, histSet(countsFuRank, binsUnit), 'bar', [0, 1, ticksUnit], [0, 40, ticksY40], { box: true, title: titleFuRank });

makeChart(2, 0, histSet(countsFy, binsFy), 'bar', [0, 25, ticksX25], [0, 140, ticksY140], { box: true, title: titleFy });
makeChart(2, 1, histSet(countsFvPseudo, binsUnit), 'bar', [0, 1, ticksUnit], [0, 70, ticksY70], { box: true, title: titleFvPseudo });
makeChart(2, 2, histSet(countsFvRank, binsUnit), 'bar', [0, 1, ticksUnit], [0, 40, ticksY40], { box: true, title: titleFvRank });
</script>
</body>
</html>
